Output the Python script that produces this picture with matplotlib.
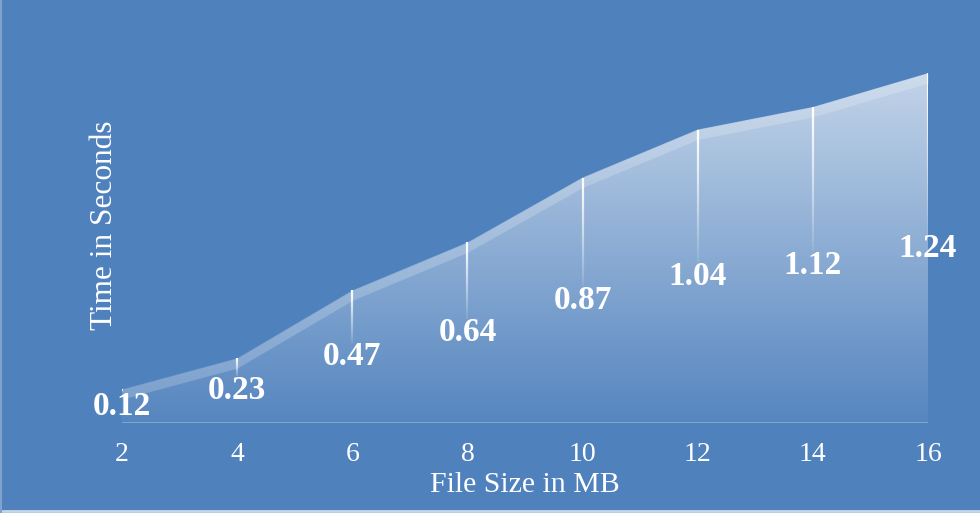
import numpy as np
import matplotlib
matplotlib.use("Agg")
import matplotlib.pyplot as plt
from matplotlib.collections import LineCollection

# data
file_size = [2, 4, 6, 8, 10, 12, 14, 16]
seconds = [0.12, 0.23, 0.47, 0.64, 0.87, 1.04, 1.12, 1.24]
x_label = "File Size in MB"
y_label = "Time in Seconds"

bg = "#4f81bd"
plt.rcParams["font.family"] = ["Liberation Serif", "DejaVu Serif"]

fig = plt.figure(figsize=(9.8, 5.13), dpi=100, facecolor=bg)
ax = fig.add_axes([0.1245, 0.1754, 0.8225, 0.7700])
ax.set_facecolor(bg)
ax.set_xlim(2, 16)
ax.set_ylim(0, 1.4)

x = np.array(file_size, dtype=float)
y = np.array(seconds)

# gradient fill under the curve, clipped to the area polygon
poly = ax.fill_between(x, y, 0, color="none", lw=0)
ys = np.linspace(0, 1.4, 300)[:, None]
grad = np.ones((300, 2, 4))
grad[:, :, 3] = 0.04 + 0.5 * ys
img = ax.imshow(grad, extent=[2, 16, 0, 1.4], origin="lower",
                aspect="auto", interpolation="bilinear", zorder=1)
img.set_clip_path(poly.get_paths()[0], transform=ax.transData)

# lighter band along the top edge
band = 0.035
ax.fill_between(x, y, y - band, color="white", alpha=0.2, lw=0, zorder=2)

# baseline
ax.plot([2, 16], [0, 0], color="white", alpha=0.3, lw=2, zorder=2)

# fading drop lines and value labels
for xi, yi in zip(x, y):
    y_end = yi / 2 + 0.05
    if y_end >= yi:
        y_end = yi - 0.03
    pts = np.linspace(yi, y_end, 30)
    segs = [[(xi, pts[i]), (xi, pts[i + 1])] for i in range(len(pts) - 1)]
    alphas = np.linspace(1.0, 0.1, len(segs))
    cols = [(1, 1, 1, a) for a in alphas]
    ax.add_collection(LineCollection(segs, colors=cols, linewidths=1.6, zorder=3))
    ax.text(xi, yi / 2, f"{yi:.2f}", ha="center", va="center", color="white",
            fontsize=24, fontweight="bold", zorder=4, clip_on=False)

for s in ax.spines.values():
    s.set_visible(False)
ax.set_yticks([])
ax.set_xticks(file_size)
ax.tick_params(axis="x", length=0, pad=14, labelsize=20, colors="white")
ax.set_xlabel(x_label, color="white", fontsize=21.5, labelpad=3)
ax.set_ylabel(y_label, color="white", fontsize=22.5, labelpad=2)

# thin light border at left and bottom
fig.add_artist(plt.Line2D([0, 1], [0.004, 0.004], color="#c9d7ea", lw=2,
                          transform=fig.transFigure))
fig.add_artist(plt.Line2D([0.001, 0.001], [0, 1], color="#7fa2cf", lw=1.5,
                          transform=fig.transFigure))

fig.savefig("out.png", dpi=100, facecolor=bg)
